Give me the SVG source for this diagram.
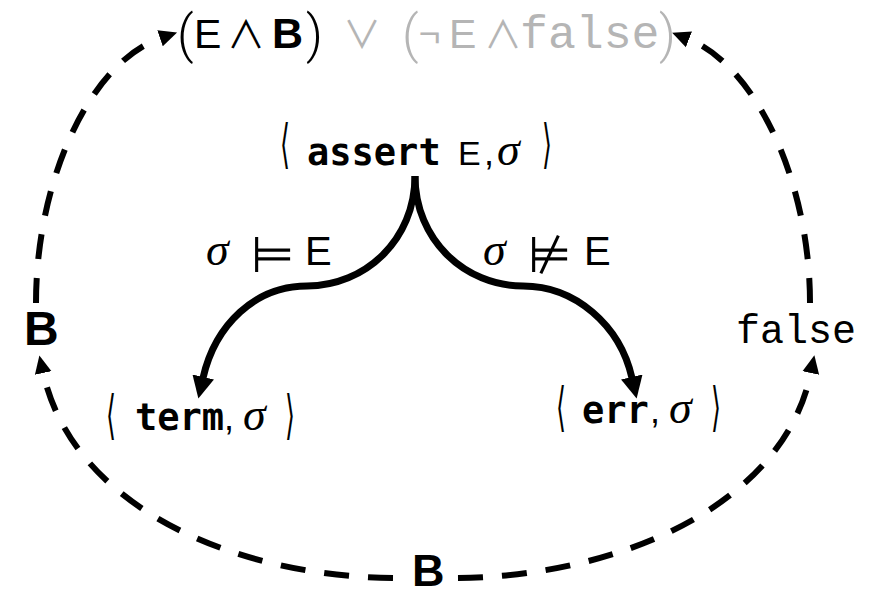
<svg xmlns="http://www.w3.org/2000/svg" width="884" height="596" viewBox="0 0 884 596">
<style>
.sans{font-family:"Liberation Sans",Arial,sans-serif;}
.bsans{font-family:"Liberation Sans",Arial,sans-serif;font-weight:bold;}
.kw{font-family:"DejaVu Sans Mono",monospace;font-weight:bold;font-size:37px;}
.mono{font-family:"Liberation Mono","Courier New",monospace;}
.math{font-family:"DejaVu Sans",sans-serif;}
.op{font-family:"Noto Sans CJK SC","DejaVu Sans",sans-serif;font-size:38px;}
.par{font-family:Roboto,"Liberation Sans",sans-serif;font-weight:300;font-size:52px;}
.sig{font-family:"Liberation Serif","Times New Roman",serif;font-style:italic;font-size:46px;}
.ang{font-family:"DejaVu Sans",sans-serif;font-size:34px;}
.gray{fill:#b5b5b5;}
.solid{fill:none;stroke:#000;stroke-width:7;}
.dash{fill:none;stroke:#000;stroke-width:6;stroke-dasharray:25 19;}
</style>
<defs>
<marker id="ah" markerUnits="userSpaceOnUse" markerWidth="24" markerHeight="24" refX="1" refY="11" orient="auto" viewBox="0 0 24 22">
<path d="M0,0 L22,11 L0,22 z" fill="#000"/>
</marker>
<marker id="ahd" markerUnits="userSpaceOnUse" markerWidth="19" markerHeight="19" refX="1" refY="8.5" orient="auto" viewBox="0 0 19 17">
<path d="M0,0 L18,8.5 L0,17 z" fill="#000"/>
</marker>
</defs>

<g id="connectors">
<path class="solid" d="M415,176 C415,240 365,286 307,286 C255,286 215,325 203,378" marker-end="url(#ah)"/>
<path class="solid" d="M415,176 C415,240 465,286 523,286 C575,286 620,325 632,378" marker-end="url(#ah)"/>
<path class="dash" d="M393,578 C230,576 72,505 43,372" marker-end="url(#ahd)"/>
<path class="dash" d="M36,303 C36,180 90,62 161,38" marker-end="url(#ahd)"/>
<path class="dash" d="M810,303 C810,180 755,65 688,39" marker-end="url(#ahd)"/>
<path class="dash" d="M458,578 C620,576 784,505 811,372" marker-end="url(#ahd)"/>
</g>

<g id="label-sat">
<text class="sig" x="206" y="265">σ</text>
<text class="math" x="251" y="272" font-size="50">⊨</text>
<text class="sans" x="305" y="265" font-size="40">E</text>
</g>
<g id="label-notsat">
<text class="sig" x="483" y="265">σ</text>
<text class="math" x="528" y="272" font-size="50">⊭</text>
<text class="sans" x="584" y="265" font-size="40">E</text>
</g>

<g id="node-formula">
<text class="par" x="177" y="52">(</text>
<text class="sans" x="194" y="48" font-size="41">E</text>
<text class="op" x="227" y="48">∧</text>
<text class="bsans" x="272" y="48" font-size="43">B</text>
<text class="par" x="306" y="52">)</text>
<text class="op gray" x="343" y="48">∨</text>
<text class="par gray" x="402" y="52">(</text>
<text class="op gray" x="419" y="48" font-size="34">¬</text>
<text class="sans gray" x="449" y="48" font-size="41">E</text>
<text class="op gray" x="484" y="48" font-size="36">∧</text>
<text class="mono gray" x="520" y="48" font-size="46.5">false</text>
<text class="par gray" x="659" y="52">)</text>
</g>

<g id="node-assert">
<text class="ang" transform="translate(280,162) scale(0.75,1.55)">⟨</text>
<text class="kw" x="307" y="165">assert</text>
<text class="sans" x="458" y="165" font-size="34">E</text>
<text class="sans" x="484" y="165" font-size="36">,</text>
<text class="sig" x="497" y="165">σ</text>
<text class="ang" transform="translate(542,162) scale(0.75,1.55)">⟩</text>
</g>

<g id="node-term">
<text class="ang" transform="translate(106,433) scale(0.75,1.55)">⟨</text>
<text class="kw" x="135" y="430">term</text>
<text class="sans" x="224" y="430" font-size="36">,</text>
<text class="sig" x="243" y="430">σ</text>
<text class="ang" transform="translate(285,433) scale(0.75,1.55)">⟩</text>
</g>

<g id="node-err">
<text class="ang" transform="translate(556,425) scale(0.75,1.55)">⟨</text>
<text class="kw" x="582" y="423">err</text>
<text class="sans" x="650" y="423" font-size="36">,</text>
<text class="sig" x="669" y="423">σ</text>
<text class="ang" transform="translate(711,425) scale(0.75,1.55)">⟩</text>
</g>

<g id="node-B-left">
<text class="bsans" x="24" y="345" font-size="48">B</text>
</g>
<g id="node-false">
<text class="mono" x="736" y="343" font-size="40">false</text>
</g>
<g id="node-B-bottom">
<text class="bsans" x="412" y="586" font-size="45">B</text>
</g>
</svg>
